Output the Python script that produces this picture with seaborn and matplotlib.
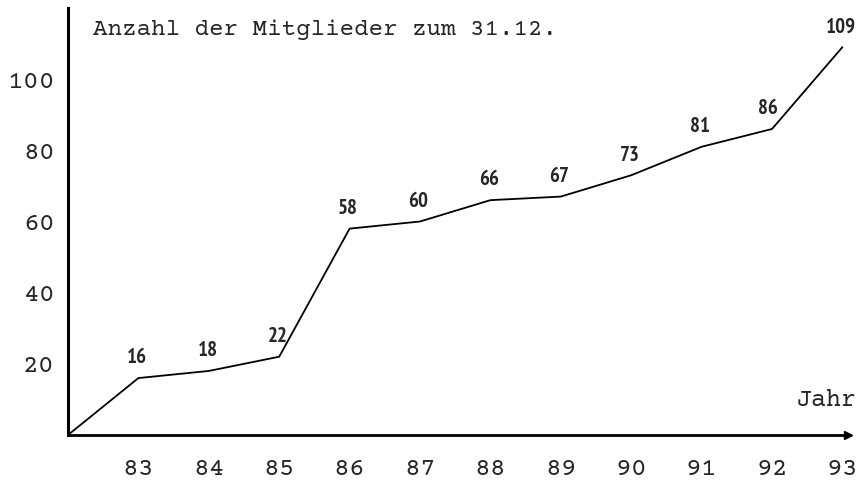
import matplotlib
matplotlib.use('Agg')
import matplotlib.pyplot as plt
import pandas as pd
import seaborn as sns

# data
years = [82, 83, 84, 85, 86, 87, 88, 89, 90, 91, 92, 93]
members = [0, 16, 18, 22, 58, 60, 66, 67, 73, 81, 86, 109]
year_labels = ['83', '84', '85', '86', '87', '88', '89', '90', '91', '92', '93']
y_ticks = [20, 40, 60, 80, 100]

df = pd.DataFrame({'Jahr': years, 'Mitglieder': members})

sns.set_style('white')
mono = ['Courier Prime', 'Liberation Mono', 'DejaVu Sans Mono']
narrow = ['PT Sans Narrow', 'Roboto Condensed', 'DejaVu Sans']

fig = plt.figure(figsize=(8.63, 4.83), dpi=100)
ax = fig.add_axes([68/863, 48/483, 780/863, 427/483])

sns.lineplot(data=df, x='Jahr', y='Mitglieder', ax=ax, color='black', linewidth=1.3)

ax.set_xlim(82, 82 + 780/70.4)
ax.set_ylim(0, 120)
ax.set_xticks(years[1:])
ax.set_xticklabels(year_labels, family=mono, fontsize=19)
ax.set_yticks(y_ticks)
ax.set_yticklabels([str(t) for t in y_ticks], family=mono, fontsize=19)
ax.tick_params(axis='both', direction='inout', length=9, width=1.2, color='black')
ax.tick_params(axis='x', pad=12)
ax.tick_params(axis='y', pad=5)
ax.set_xlabel('')
ax.set_ylabel('')

sns.despine(ax=ax)
ax.spines['left'].set_linewidth(2.2)
ax.spines['bottom'].set_linewidth(2.0)
ax.spines['left'].set_color('black')
ax.spines['bottom'].set_color('black')

# arrow at the end of the x axis
ax.plot(1, 0, marker='>', color='black', markersize=6, transform=ax.transAxes, clip_on=False)

# value labels
for x, y in zip(years[1:], members[1:]):
    dx = -0.06 if x == 92 else -0.02
    ax.text(x + dx, y + 3, str(y), ha='center', va='bottom', family=narrow,
            fontsize=15, fontweight='bold')

fig.text(93/863, 1 - 35/483, 'Anzahl der Mitglieder zum 31.12.', family=mono,
         fontsize=17.5, ha='left', va='baseline')
fig.text(857/863, 1 - 406/483, 'Jahr', family=mono, fontsize=18, ha='right', va='baseline')

fig.savefig('out.png', dpi=100)
